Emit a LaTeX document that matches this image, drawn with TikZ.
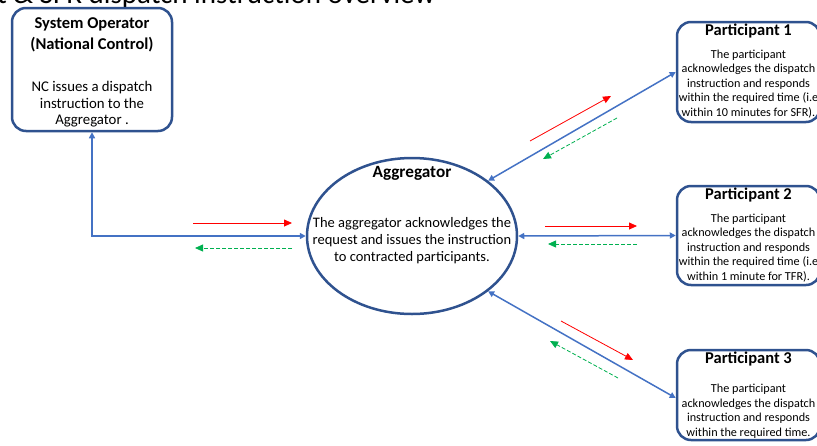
\documentclass[tikz,border=0pt]{standalone}
\usepackage{fontspec}
\setmainfont{Carlito}
\usetikzlibrary{arrows.meta,positioning,shapes.geometric}
\definecolor{boxblue}{HTML}{2F528F}
\definecolor{linkblue}{HTML}{4472C4}
\definecolor{sendred}{HTML}{FF0000}
\definecolor{backgreen}{HTML}{00B050}

\begin{document}
\begin{tikzpicture}[x=1pt,y=-1pt,
  box/.style={draw=boxblue,line width=2.5pt,rounded corners=14pt},
  link/.style={draw=linkblue,line width=1.5pt,{Triangle[length=6pt,width=6pt]}-{Triangle[length=6pt,width=6pt]}},
  send/.style={sendred,line width=0.8pt,-{Triangle[length=8pt,width=7pt]}},
  reply/.style={backgreen,line width=0.8pt,dash pattern=on 4pt off 2pt,-{Triangle[length=8pt,width=7pt]}},
  head/.style={align=center,font=\bfseries\fontsize{16.5}{21}\selectfont},
  body/.style={align=center,font=\fontsize{14.8}{16.5}\selectfont},
  small/.style={align=center,font=\fontsize{12.2}{14.5}\selectfont}]
\useasboundingbox (0,0) rectangle (817,445);
\clip (0,0) rectangle (817,445);
\node[font=\fontsize{29}{29}\selectfont,anchor=base west,inner sep=0pt] (title) at (-3,3) {t \& SFR dispatch instruction overview};
% system operator
\node[box,minimum width=160pt,minimum height=123pt] (so) at (92,69.5) {};
\node[head] (sohead) at (92,35) {System Operator\\(National Control)};
\node[body] (sobody) at (92,104.5) {NC issues a dispatch\\instruction to the\\Aggregator .};
% aggregator
\node[ellipse,draw=boxblue,line width=2.5pt,minimum width=210pt,minimum height=156pt] (agg) at (412,236) {};
\node[head,font=\bfseries\fontsize{17.2}{20}\selectfont] (agghead) at (412,173) {Aggregator};
\node[body,font=\fontsize{14.5}{17}\selectfont] (aggbody) at (412,241) {The aggregator acknowledges the\\request and issues the instruction\\to contracted participants.};
% participants
\node[box,minimum width=143pt,minimum height=100pt] (p1) at (748.5,72) {};
\node[head] (p1head) at (748.5,31) {Participant 1};
\node[small] (p1body) at (748.5,84) {The participant\\acknowledges the dispatch\\instruction and responds\\within the required time (i.e\\within 10 minutes for SFR).};
\node[box,minimum width=143pt,minimum height=99pt] (p2) at (748.5,235.5) {};
\node[head] (p2head) at (748.5,195) {Participant 2};
\node[small] (p2body) at (748.5,248) {The participant\\acknowledges the dispatch\\instruction and responds\\within the required time (i.e\\within 1 minute for TFR).};
\node[box,minimum width=143pt,minimum height=90pt] (p3) at (748.5,395) {};
\node[head] (p3head) at (748.5,359) {Participant 3};
\node[small] (p3body) at (748.5,411) {The participant\\acknowledges the dispatch\\instruction and responds\\within the required time.};
% connectors
\draw[link] (agg.west) -| (so.south);
\draw[link] (agg.36) -- (p1.west);
\draw[link] (agg.east) -- (p2.west);
\draw[link] (agg.-36) -- ([yshift=-3pt]p3.west);
% instruction and reply arrows
\draw[send] (193,223) -- (292,223);
\draw[reply] (292,248) -- (195,248);
\draw[send] (530,141) -- (611,96);
\draw[reply] (617,118) -- (543,159);
\draw[send] (545,226) -- (637,226);
\draw[reply] (637,244) -- (548,244);
\draw[send] (561,321) -- (633,360);
\draw[reply] (618,378) -- (550,341);
\end{tikzpicture}
\end{document}
